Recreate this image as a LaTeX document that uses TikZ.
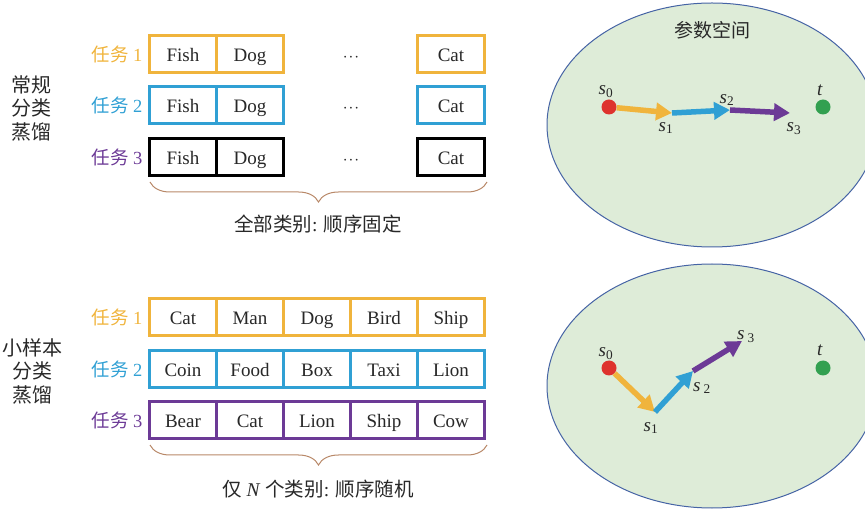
\documentclass[tikz,border=0pt]{standalone}
\usepackage{fontspec}
\setmainfont{Liberation Serif}
\newfontfamily\cjk{Noto Sans CJK SC}
\usetikzlibrary{arrows.meta,decorations.pathreplacing}
\definecolor{corange}{RGB}{240,180,60}
\definecolor{cblue}{RGB}{48,160,212}
\definecolor{cpurple}{RGB}{108,58,150}
\definecolor{cbrown}{RGB}{184,136,104}
\definecolor{egreen}{RGB}{222,236,216}
\definecolor{eblue}{RGB}{70,100,165}
\definecolor{cred}{RGB}{222,50,45}
\definecolor{cgreen}{RGB}{50,160,80}
\definecolor{ctext}{RGB}{40,40,40}
\newcommand{\sv}[1]{\textit{s}\textsubscript{#1}}
\begin{document}
\begin{tikzpicture}[x=1pt,y=-1pt,
  cell/.style={draw, line width=2.4pt, minimum width=67pt, minimum height=37pt, inner sep=0pt, fill=white, text=ctext, text height=15pt, text depth=0pt, font=\fontsize{19}{22}\selectfont},
  tasklbl/.style={font=\fontsize{18.5}{22}\selectfont, inner sep=0pt, text height=15pt, text depth=0pt},
  sidelbl/.style={font=\cjk\fontsize{20}{23.5}\selectfont, text=ctext, align=center, inner sep=0pt},
  captxt/.style={font=\fontsize{19.5}{22}\selectfont, text=ctext, inner sep=0pt},
  brc/.style={draw=cbrown, line width=1pt, decorate, decoration={brace, mirror, amplitude=20pt}},
  space/.style={fill=egreen, draw=eblue, line width=1pt},
  arr/.style={line width=5.5pt, -{Triangle[length=16pt,width=17pt]}},
  dot/.style={circle, minimum size=15pt, inner sep=0pt},
  dots/.style={font=\fontsize{19}{22}\selectfont, text=ctext, inner sep=0pt, text height=15pt, text depth=0pt},
  slbl/.style={font=\fontsize{19}{22}\selectfont, text=ctext, inner sep=0pt}
]
\useasboundingbox (0,0) rectangle (865,510);

% ---------- top section ----------
\node[sidelbl] (side1) at (32,108) {常规\\分类\\蒸馏};

\node[tasklbl, text=corange] (t11) at (117,54) {{\cjk 任务} 1};
\node[tasklbl, text=cblue]   (t12) at (117,105) {{\cjk 任务} 2};
\node[tasklbl, text=cpurple] (t13) at (117,157) {{\cjk 任务} 3};

\node[cell, draw=corange] (a11) at (183,54) {Fish};
\node[cell, draw=corange] (a12) at (250,54) {Dog};
\node[cell, draw=corange] (a15) at (451,54) {Cat};
\node[cell, draw=cblue] (a21) at (183,105) {Fish};
\node[cell, draw=cblue] (a22) at (250,105) {Dog};
\node[cell, draw=cblue] (a25) at (451,105) {Cat};
\node[cell, draw=black] (a31) at (183,157) {Fish};
\node[cell, draw=black] (a32) at (250,157) {Dog};
\node[cell, draw=black] (a35) at (451,157) {Cat};
\node[dots] (d1) at (351,54) {$\cdot\!\cdot\!\cdot$};
\node[dots] (d2) at (351,105) {$\cdot\!\cdot\!\cdot$};
\node[dots] (d3) at (351,157) {$\cdot\!\cdot\!\cdot$};

\coordinate (b1l) at (150,182);
\coordinate (b1r) at (487,182);
\draw[brc] (b1l) -- (b1r);
\node[captxt] (c1) at (318,224) {{\cjk 全部类别}: {\cjk 顺序固定}};

% ---------- bottom section ----------
\node[sidelbl] (side2) at (32,371) {小样本\\分类\\蒸馏};

\node[tasklbl, text=corange] (t21) at (117,317) {{\cjk 任务} 1};
\node[tasklbl, text=cblue]   (t22) at (117,369) {{\cjk 任务} 2};
\node[tasklbl, text=cpurple] (t23) at (117,420) {{\cjk 任务} 3};

\node[cell, draw=corange] (b11) at (183,317) {Cat};
\node[cell, draw=corange] (b12) at (250,317) {Man};
\node[cell, draw=corange] (b13) at (317,317) {Dog};
\node[cell, draw=corange] (b14) at (384,317) {Bird};
\node[cell, draw=corange] (b15) at (451,317) {Ship};
\node[cell, draw=cblue] (b21) at (183,369) {Coin};
\node[cell, draw=cblue] (b22) at (250,369) {Food};
\node[cell, draw=cblue] (b23) at (317,369) {Box};
\node[cell, draw=cblue] (b24) at (384,369) {Taxi};
\node[cell, draw=cblue] (b25) at (451,369) {Lion};
\node[cell, draw=cpurple] (b31) at (183,420) {Bear};
\node[cell, draw=cpurple] (b32) at (250,420) {Cat};
\node[cell, draw=cpurple] (b33) at (317,420) {Lion};
\node[cell, draw=cpurple] (b34) at (384,420) {Ship};
\node[cell, draw=cpurple] (b35) at (451,420) {Cow};

\coordinate (b2l) at (150,445);
\coordinate (b2r) at (487,445);
\draw[brc] (b2l) -- (b2r);
\node[captxt] (c2) at (318,489) {{\cjk 仅} \textit{N} {\cjk 个类别}: {\cjk 顺序随机}};

% ---------- parameter space (top) ----------
\draw[space] (712,125) ellipse [x radius=165, y radius=122];
\node[font=\cjk\fontsize{19}{22}\selectfont, text=ctext] (ps) at (712,30) {参数空间};
\node[dot, fill=cred] (p0) at (609,107) {};
\node[dot, fill=cgreen] (pt) at (823,107) {};
\coordinate (p1) at (672,113);
\coordinate (p2) at (730,110);
\coordinate (p3) at (790,113);
\draw[arr, corange] (p0) -- (p1);
\draw[arr, cblue] (p1) -- (p2);
\draw[arr, cpurple] (p2) -- (p3);
\node[slbl] at (606,92) {\sv{0}};
\node[slbl] at (666,128) {\sv{1}};
\node[slbl] at (727,100) {\sv{2}};
\node[slbl] at (794,129) {\sv{3}};
\node[slbl] at (820,90) {\textit{t}};

% ---------- parameter space (bottom) ----------
\draw[space] (712,386) ellipse [x radius=165, y radius=122];
\node[dot, fill=cred] (q0) at (609,368) {};
\node[dot, fill=cgreen] (qt) at (823,368) {};
\coordinate (q1) at (655,412);
\coordinate (q2) at (693,371);
\coordinate (q3) at (742,341);
\draw[arr, corange] (q0) -- (q1);
\draw[arr, cblue] (q1) -- (q2);
\draw[arr, cpurple] (q2) -- (q3);
\node[slbl] at (606,354) {\sv{0}};
\node[slbl] at (651,428) {\sv{1}};
\node[slbl] at (702,388) {\textit{s}\,\textsubscript{2}};
\node[slbl] at (746,337) {\textit{s}\,\textsubscript{3}};
\node[slbl] at (820,350) {\textit{t}};
\end{tikzpicture}
\end{document}
